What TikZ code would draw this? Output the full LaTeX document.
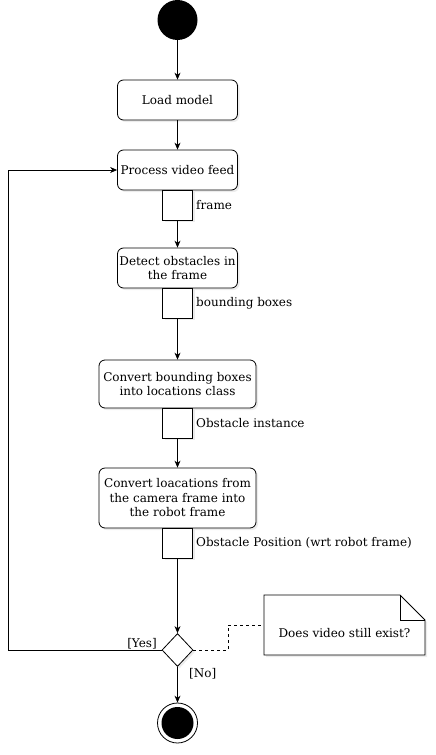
\documentclass[tikz,border=0pt]{standalone}
\usepackage{fontspec}
\setmainfont{DejaVu Serif}
\usepackage{tikz}
\usetikzlibrary{shapes,arrows,positioning,calc,shadows,arrows.meta}

\tikzset{
    action/.style={draw, thick, fill=white, rounded corners=6pt, minimum width=120pt,
        minimum height=40pt, align=center, inner sep=1pt,
        drop shadow={opacity=0.15, shadow xshift=2pt, shadow yshift=-2pt}},
    pinbox/.style={draw, thick, fill=white, minimum size=30pt, inner sep=0pt,
        drop shadow={opacity=0.15, shadow xshift=2pt, shadow yshift=-2pt}},
    flow/.style={thick, -{Stealth[length=7pt,width=6pt]}},
    lbl/.style={inner sep=0pt, anchor=west}
}

\begin{document}
\begin{tikzpicture}[x=1pt, y=-1pt, font=\fontsize{12}{14.5}\selectfont]
    \useasboundingbox (0,0) rectangle (436,755);

    % Start
    \node[circle, fill=black, minimum size=40pt, inner sep=0pt] (start) at (177.5,20) {};

    % Actions
    \node[action] (load) at (177.5,100) {Load model};
    \node[action] (feed) at (177.5,170) {Process video feed};
    \node[action] (detect) at (177.5,268) {Detect obstacles in\\the frame};
    \node[action, minimum width=157pt, minimum height=48pt] (convert) at (177.5,384) {Convert bounding boxes\\into locations class};
    \node[action, minimum width=157pt, minimum height=60pt] (robot) at (177.5,498) {Convert loacations from\\the camera frame into\\the robot frame};

    % Pins
    \node[pinbox] (pframe) at (177.5,205) {};
    \node[lbl] at (196,205) {frame};
    \node[pinbox] (pbox) at (177.5,303) {};
    \node[lbl] at (196,303) {bounding boxes};
    \node[pinbox] (pobs) at (177.5,423) {};
    \node[lbl] at (196,423) {Obstacle instance};
    \node[pinbox] (ppos) at (177.5,543) {};
    \node[lbl] at (196,543) {Obstacle Position (wrt robot frame)};

    % Decision
    \node[diamond, draw, thick, fill=white, minimum width=31pt, minimum height=33pt, inner sep=0pt,
        drop shadow={opacity=0.15, shadow xshift=2pt, shadow yshift=-2pt}] (check) at (177.5,650) {};
    \node[anchor=south east, inner sep=1pt] at (158,650) {[Yes]};
    \node[anchor=north west, inner sep=1pt] at (188,667) {[No]};

    % End
    \node[circle, draw, thick, fill=white, minimum size=40pt, inner sep=0pt] (stop) at (177.5,723) {};
    \node[circle, fill=black, minimum size=32pt, inner sep=0pt] at (stop) {};

    % Note
    \draw[thick, fill=white, drop shadow={opacity=0.15, shadow xshift=2pt, shadow yshift=-2pt}]
        (264,595) -- (400,595) -- (425,620) -- (425,655) -- (264,655) -- cycle;
    \draw[thick] (400,595) -- (400,620) -- (425,620);
    \node (note) at (344.5,633) {Does video still exist?};
    \coordinate (notein) at (264,625);

    % Flow
    \draw[flow] (start) -- (load);
    \draw[flow] (load) -- (feed);
    \draw[flow] (pframe) -- (detect);
    \draw[flow] (pbox) -- (convert);
    \draw[flow] (pobs) -- (robot);
    \draw[flow] (ppos) -- (check);
    \draw[flow] (check) -- (stop);
    \draw[flow] (check.west) -- (8,650) |- (feed.west);
    \draw[thick, dashed, dash pattern=on 3pt off 3pt] (check.east) -| (228,625) -- (notein);
\end{tikzpicture}
\end{document}
